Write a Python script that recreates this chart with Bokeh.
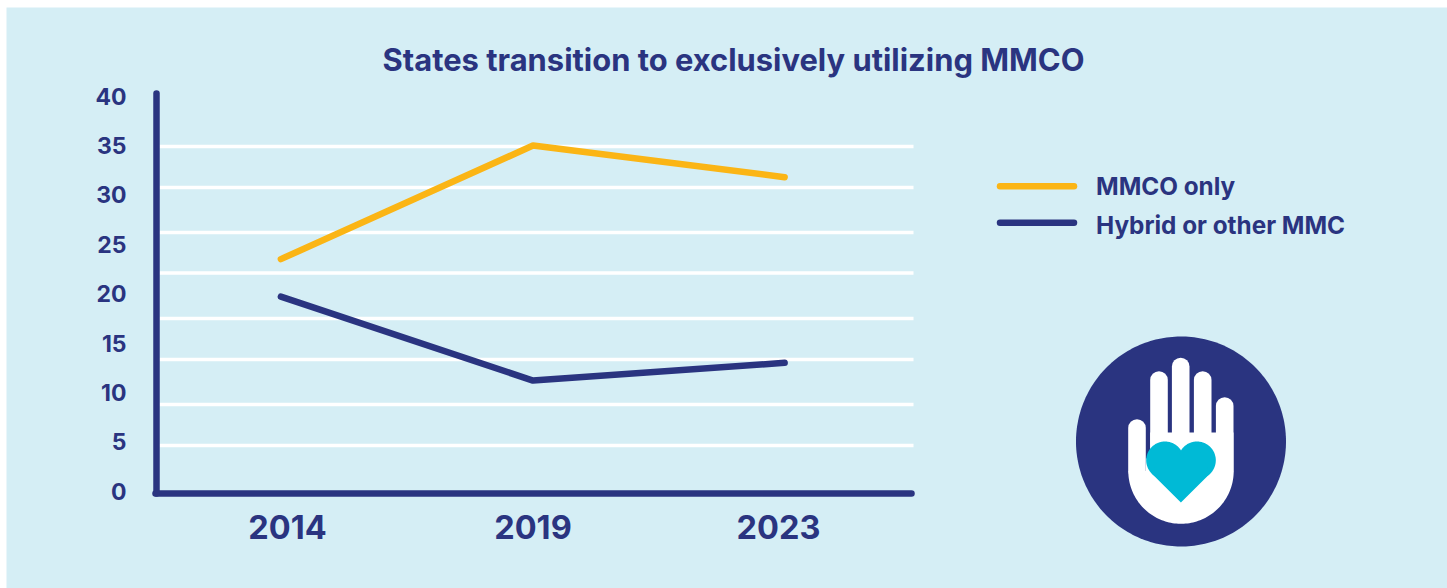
from bokeh.plotting import figure
from bokeh.models import Range1d, FixedTicker
from bokeh.embed import file_html
from bokeh.resources import INLINE
import numpy as np

# ---- data -------------------------------------------------------------
title_text = "States transition to exclusively utilizing MMCO"
categories = ["2014", "2019", "2023"]
y_ticks = [0, 5, 10, 15, 20, 25, 30, 35, 40]
mmco_only = [23.5, 35.0, 31.8]
hybrid_other = [19.7, 11.2, 13.0]
grid_values = [4.63, 8.78, 13.34, 17.49, 22.1, 26.2, 30.75, 34.9]
legend_labels = ["MMCO only", "Hybrid or other MMC"]

# ---- style ------------------------------------------------------------
NAVY, ORANGE, TEAL, BG = "#2a3480", "#fbb515", "#00bad6", "#d5eef5"
FONT = "Inter"
OX, OY = 6, 7                       # panel origin in the picture
W, H = 1447, 588
X0, XU = 287, 245.5                 # px of category 0, px per category
Y0, YU = 490.7, 9.875               # px of value 0, px per unit
pts_x = [-0.027, 1.0, 2.025]        # lines start/stop slightly off the labels

p = figure(width=W, height=H, output_backend="svg", toolbar_location=None,
           x_range=Range1d((OX - X0) / XU, (W - X0) / XU),
           y_range=Range1d((Y0 - H) / YU, (Y0 - OY) / YU),
           min_border=0, min_border_left=OX, min_border_top=OY,
           outline_line_color=None,
           background_fill_color=BG, border_fill_color="white",
           margin=(0, -8, -8, 0))
p.grid.visible = False

# pixel ranges for the decorative icon, legend and title
p.extra_x_ranges["px"] = Range1d(OX, W)
p.extra_y_ranges["px"] = Range1d(H, OY)
kw = dict(x_range_name="px", y_range_name="px")

# axes
xa, ya = p.xaxis[0], p.yaxis[0]
ya.fixed_location = (156 - X0) / XU
xa.fixed_location = (Y0 - 493.3) / YU
ya.bounds = ((Y0 - 493.3) / YU, (Y0 - 93) / YU)
xa.bounds = ((155 - X0) / XU, (911 - X0) / XU)
ya.ticker = FixedTicker(ticks=y_ticks)
xa.ticker = FixedTicker(ticks=[0, 1, 2])
xa.major_label_overrides = {i: c for i, c in enumerate(categories)}
for ax, size in ((xa, "32.5px"), (ya, "23px")):
    ax.axis_line_color = NAVY
    ax.axis_line_width = 6.5
    ax.axis_line_cap = "round"
    ax.major_tick_line_color = None
    ax.minor_tick_line_color = None
    ax.major_label_text_color = NAVY
    ax.major_label_text_font = FONT
    ax.major_label_text_font_style = "bold"
    ax.major_label_text_font_size = size
xa.major_label_standoff = 15
ya.major_label_standoff = 24

# gridlines
p.segment(x0=[(159 - X0) / XU] * len(grid_values), x1=[(913 - X0) / XU] * len(grid_values),
          y0=grid_values, y1=grid_values, line_color="white", line_width=3.5, level="underlay")

# series
p.line(pts_x, mmco_only, line_color=ORANGE, line_width=6.5, line_cap="round", line_join="round")
p.line(pts_x, hybrid_other, line_color=NAVY, line_width=6.5, line_cap="round", line_join="round")

# legend: keys and labels sit at slightly different heights in the reference
for color, label, key_y, text_y in ((ORANGE, legend_labels[0], 185.7, 185),
                                    (NAVY, legend_labels[1], 222.3, 224)):
    p.line([999.5, 1073.5], [key_y, key_y], line_color=color, line_width=6.5, line_cap="round", **kw)
    p.text(x=[1095.5], y=[text_y], text=[label], text_color=NAVY,
           text_font={"value": FONT}, text_font_style="bold",
           text_font_size={"value": "24.3px"}, text_align="left", text_baseline="middle", **kw)

# title as in-frame text
p.text(x=[733], y=[59], text=[title_text], text_color=NAVY,
       text_font={"value": FONT}, text_font_style="bold",
       text_font_size={"value": "30.9px"}, text_align="center", text_baseline="middle", **kw)

# icon
t = np.linspace(0, 2 * np.pi, 240)
cx = 1180.5
p.patch(cx + 105 * np.cos(t), 441 + 105 * np.sin(t), fill_color=NAVY, line_color=None, **kw)
fingers = [(1136.5, 427.5, 470), (1158.5, 379.5, 450), (1180.2, 366, 450),
           (1202.2, 379.5, 450), (1224.2, 405.5, 470)]
for fx, top, bot in fingers:
    p.line([fx, fx], [top, bot], line_color="white", line_width=17.6, line_cap="round", **kw)
a = np.linspace(0, np.pi, 90)
palm_x = np.concatenate([[1233, 1233], cx + 52.7 * np.cos(a), [1127.8, 1145.4, 1145.4, 1149.7, 1149.7]])
palm_y = np.concatenate([[432, 470.6], 470.6 + 52.7 * np.sin(a), [470.6, 470.6, 458, 458, 432]])
p.patch(palm_x, palm_y, fill_color="white", line_color=None, **kw)
r = 18.8
for hx in (1164.5, 1196.5):
    p.patch(hx + r * np.cos(t), 459.8 + r * np.sin(t), fill_color=TEAL, line_color=None, **kw)
p.patch([1151.2, 1180.4, 1209.6, 1196.5, 1180.4, 1164.5],
        [473, 502, 473, 445, 455, 445], fill_color=TEAL, line_color=None, **kw)

open("out.html", "w").write(file_html(p, INLINE))
